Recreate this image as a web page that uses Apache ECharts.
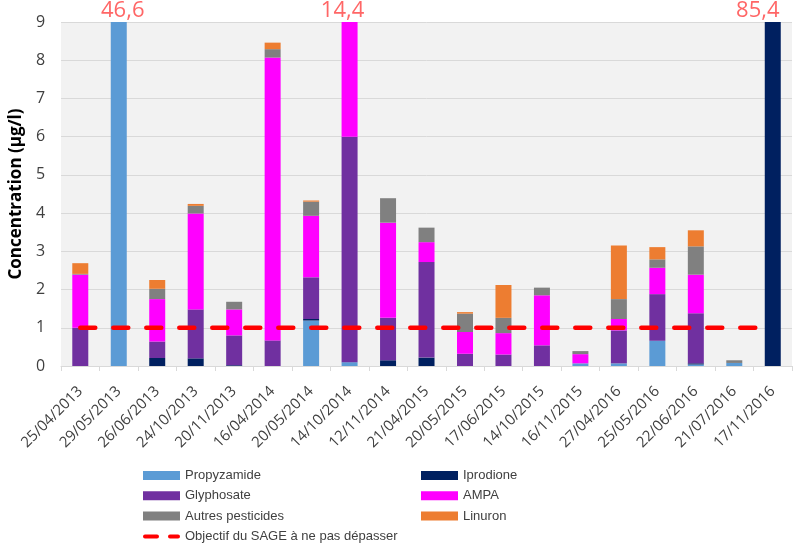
<!DOCTYPE html>
<html>
<head>
<meta charset="utf-8">
<script src="https://cdn.jsdelivr.net/npm/echarts@6/dist/echarts.min.js"></script>
<style>
  html, body { margin: 0; padding: 0; background: #ffffff; }
  #chart { width: 794px; height: 544px; }
</style>
</head>
<body>
<div id="chart"></div>
<script>
// Sampling dates
const dates = [
  '25/04/2013', '29/05/2013', '26/06/2013', '24/10/2013', '20/11/2013',
  '16/04/2014', '20/05/2014', '14/10/2014', '12/11/2014', '21/04/2015',
  '20/05/2015', '17/06/2015', '14/10/2015', '16/11/2015', '27/04/2016',
  '25/05/2016', '22/06/2016', '21/07/2016', '17/11/2016'
];

// Concentrations (µg/l) per substance, stacked bottom to top
const propyzamide = [0, 46.6, 0, 0, 0, 0, 1.19, 0.1, 0, 0, 0, 0, 0, 0.07, 0.07, 0.66, 0.04, 0.08, 0];
const iprodione   = [0, 0, 0.21, 0.2, 0.02, 0, 0.04, 0, 0.15, 0.22, 0, 0, 0, 0, 0, 0, 0.03, 0, 85.4];
const glyphosate  = [1.0, 0, 0.43, 1.28, 0.78, 0.67, 1.09, 5.9, 1.11, 2.5, 0.32, 0.3, 0.54, 0, 0.86, 1.22, 1.31, 0, 0];
const ampa        = [1.39, 0, 1.11, 2.51, 0.68, 7.4, 1.61, 8.4, 2.49, 0.52, 0.57, 0.56, 1.31, 0.24, 0.3, 0.69, 1.01, 0, 0];
const autres      = [0.02, 0, 0.27, 0.2, 0.2, 0.22, 0.37, 0, 0.64, 0.38, 0.48, 0.4, 0.2, 0.08, 0.52, 0.22, 0.74, 0.07, 0];
const linuron     = [0.28, 0, 0.23, 0.05, 0, 0.17, 0.03, 0, 0, 0, 0.04, 0.86, 0, 0, 1.4, 0.32, 0.42, 0, 0];

// SAGE objective (µg/l)
const objectif = 1;

// Value axis
const yMin = 0;
const yMax = 9;
const yStep = 1;

const seriesDefs = [
  { name: 'Propyzamide', data: propyzamide, color: '#5b9bd5' },
  { name: 'Iprodione', data: iprodione, color: '#002060' },
  { name: 'Glyphosate', data: glyphosate, color: '#7030a0' },
  { name: 'AMPA', data: ampa, color: '#ff00ff' },
  { name: 'Autres pesticides', data: autres, color: '#808080' },
  { name: 'Linuron', data: linuron, color: '#ed7d31' }
];

const lineName = 'Objectif du SAGE à ne pas dépasser';

// Totals above the axis ceiling get a value label at the top of the plot
const totals = dates.map((d, i) => seriesDefs.reduce((s, def) => s + def.data[i], 0));
const overflowPoints = [];
totals.forEach((t, i) => {
  if (t > yMax) overflowPoints.push({ value: [i, Math.min(t, yMax)], total: t });
});
const overflowShift = [4, -7, -15];

const chart = echarts.init(document.getElementById('chart'), null, { renderer: 'canvas' });

const font = "'Open Sans', 'Noto Sans', sans-serif";
const legendFont = "'Liberation Sans', Arial, sans-serif";

// Two short rounded dashes for the objective line legend key
const dashIcon = 'path://M2,0h12a2,2 0 0 1 0,4h-12a2,2 0 0 1 0,-4z M27,0h8a2,2 0 0 1 0,4h-8a2,2 0 0 1 0,-4z';

const barSeries = seriesDefs.map(def => ({
  name: def.name,
  type: 'bar',
  stack: 'total',
  barWidth: 16,
  data: def.data,
  clip: true,
  itemStyle: { color: def.color },
  emphasis: { disabled: true }
}));

const legendText = { fontFamily: legendFont, fontSize: 13, lineHeight: 15, color: '#404040' };

const option = {
  animation: false,
  backgroundColor: '#ffffff',
  grid: {
    left: 59, right: 2, top: 22, bottom: 178,
    show: true, backgroundColor: '#f2f2f2', borderWidth: 0
  },
  legend: [
    {
      orient: 'vertical', left: 143, top: 468, height: 100, itemGap: 5.3,
      itemWidth: 37, itemHeight: 9, padding: 0,
      textStyle: legendText,
      data: [
        { name: 'Propyzamide', icon: 'rect' },
        { name: 'Glyphosate', icon: 'rect' },
        { name: 'Autres pesticides', icon: 'rect' },
        { name: lineName, icon: dashIcon, itemStyle: { color: '#ff0000' } }
      ]
    },
    {
      orient: 'vertical', left: 421, top: 468, height: 100, itemGap: 5.3,
      itemWidth: 37, itemHeight: 9, padding: 0,
      textStyle: legendText,
      data: [
        { name: 'Iprodione', icon: 'rect' },
        { name: 'AMPA', icon: 'rect' },
        { name: 'Linuron', icon: 'rect' }
      ]
    }
  ],
  xAxis: {
    type: 'category',
    data: dates,
    axisLine: { lineStyle: { color: '#d9d9d9' } },
    axisTick: { show: true, length: 5, lineStyle: { color: '#d9d9d9' } },
    axisLabel: {
      rotate: 45, margin: 23, interval: 0,
      fontFamily: font, fontSize: 15, color: '#404040'
    }
  },
  yAxis: {
    type: 'value',
    min: yMin, max: yMax, interval: yStep,
    name: 'Concentration (µg/l)',
    nameLocation: 'middle',
    nameGap: 27,
    nameTextStyle: { fontFamily: font, fontSize: 17, fontWeight: 'bold', color: '#000000' },
    axisLine: { show: false },
    axisTick: { show: false },
    axisLabel: { fontFamily: font, fontSize: 16, color: '#404040', margin: 16 },
    splitLine: { lineStyle: { color: '#d9d9d9', width: 1 } }
  },
  series: [
    ...barSeries,
    {
      name: lineName,
      type: 'line',
      data: dates.map(() => objectif),
      symbol: 'none',
      z: 5,
      lineStyle: { color: '#ff0000', width: 4.5, type: [15, 18], cap: 'round' },
      itemStyle: { color: '#ff0000' },
      emphasis: { disabled: true }
    },
    {
      name: 'totaux',
      type: 'scatter',
      symbolSize: 0,
      z: 6,
      data: overflowPoints.map((p, k) => ({
        value: p.value,
        label: { offset: [overflowShift[k] || 0, 0] }
      })),
      label: {
        show: true,
        position: 'top',
        distance: 0,
        fontFamily: font,
        fontSize: 22,
        color: '#ff4040',
        formatter: p => overflowPoints[p.dataIndex].total.toFixed(1).replace('.', ',')
      }
    }
  ]
};

chart.setOption(option);
</script>
</body>
</html>
